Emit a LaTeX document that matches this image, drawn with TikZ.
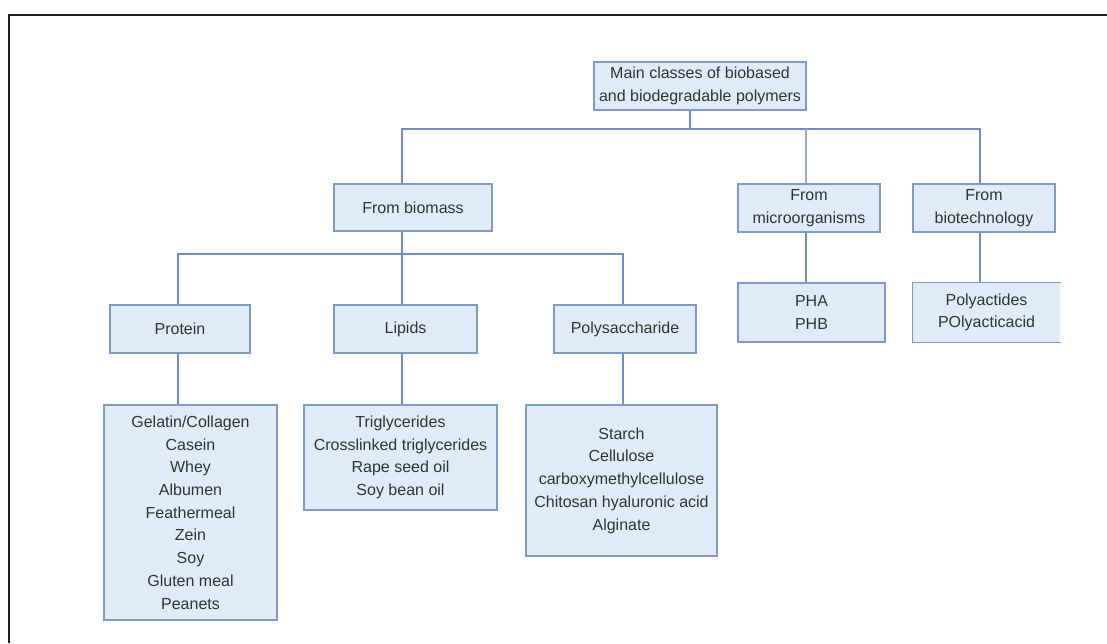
\documentclass[tikz,border=0pt]{standalone}
\usepackage{fontspec}
\setmainfont{Liberation Sans}
\definecolor{boxfill}{HTML}{DFECF7}
\definecolor{boxline}{HTML}{7F9AC6}
\definecolor{treeline}{HTML}{6F8DC0}
\definecolor{txt}{HTML}{333333}
\definecolor{frame}{HTML}{1E1E1E}
\begin{document}
\begin{tikzpicture}[x=1pt,y=-1pt,
  cls/.style={draw=boxline, line width=1.3pt, fill=boxfill, text=txt, align=center,
    font=\fontsize{16}{22.7}\selectfont, inner sep=0pt, anchor=center},
  link/.style={draw=treeline, line width=1.8pt},
  thin link/.style={draw=treeline!75, line width=1.2pt}]
\useasboundingbox (0,0) rectangle (1107,643);
% frame
\draw[frame, line width=2pt] (1107,15) -- (9,15) -- (9,643);
% nodes
\node[cls, minimum width=212pt, minimum height=48pt] (main) at (700,86) {Main classes of biobased\\and biodegradable polymers};
\node[cls, minimum width=158pt, minimum height=47pt] (biomass) at (413,207.5) {From biomass};
\node[cls, minimum width=142pt, minimum height=48pt] (micro) at (809,208) {From\\microorganisms};
\node[cls, minimum width=142pt, minimum height=48pt] (biotech) at (984,208) {From\\biotechnology};
\node[cls, minimum width=140pt, minimum height=48pt] (protein) at (180,329) {Protein};
\node[cls, minimum width=143pt, minimum height=48pt] (lipids) at (405.5,329) {Lipids};
\node[cls, minimum width=142pt, minimum height=48pt] (poly) at (625,329) {Polysaccharide};
\node[cls, minimum width=173pt, minimum height=215pt] (protlist) at (190.5,512.5) {Gelatin/Collagen\\Casein\\Whey\\Albumen\\Feathermeal\\Zein\\Soy\\Gluten meal\\Peanets};
\node[cls, minimum width=193pt, minimum height=105pt] (liplist) at (400.5,457.5) {Triglycerides\\Crosslinked triglycerides\\Rape seed oil\\Soy bean oil};
\node[cls, minimum width=191pt, minimum height=151pt] (polylist) at (621.5,480.5) {Starch\\Cellulose\\carboxymethylcellulose\\Chitosan hyaluronic acid\\Alginate};
\node[cls, minimum width=147pt, minimum height=59pt] (pha) at (811.5,312.5) {PHA\\PHB};
\node[cls, draw=none, minimum width=147pt, minimum height=59pt] (polyact) at (986.5,312.5) {Polyactides\\POlyacticacid};
\draw[boxline, line width=1.3pt] (polyact.north east) -- (polyact.north west) -- (polyact.south west) -- (polyact.south east);
% junction coordinates
\coordinate (j0) at (690,129);
\coordinate (jb) at (402,129);
\coordinate (jm) at (806,129);
\coordinate (jt) at (980,129);
\coordinate (k0) at (402,254);
\coordinate (kp) at (178,254);
\coordinate (kq) at (623,254);
% connectors
\draw[link] (main.south -| j0) -- (j0);
\draw[link] (biomass.north -| jb) -- (jb) -- (jt) -- (biotech.north -| jt);
\draw[thin link] (jm) -- (micro.north -| jm);
\draw[link] (biomass.south -| k0) -- (k0);
\draw[link] (protein.north -| kp) -- (kp) -- (kq) -- (poly.north -| kq);
\draw[link] (k0) -- (lipids.north -| k0);
\draw[link] (protein.south -| kp) -- (protlist.north -| kp);
\draw[link] (lipids.south -| k0) -- (liplist.north -| k0);
\draw[link] (poly.south -| kq) -- (polylist.north -| kq);
\draw[link] (micro.south -| jm) -- (pha.north -| jm);
\draw[link] (biotech.south -| jt) -- (polyact.north -| jt);
\end{tikzpicture}
\end{document}
